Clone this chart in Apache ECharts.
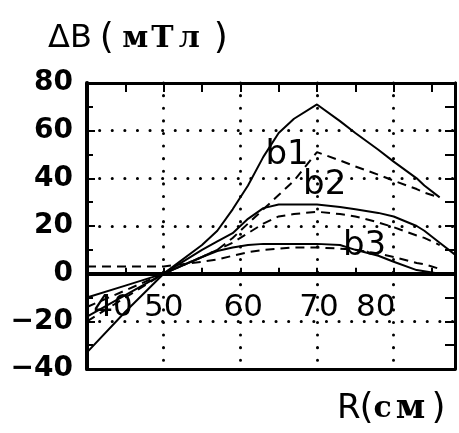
<!DOCTYPE html>
<html><head><meta charset="utf-8">
<script src="https://cdn.jsdelivr.net/npm/echarts@6/dist/echarts.min.js"></script>
<style>html,body{margin:0;padding:0;background:#fff}#c{width:459px;height:433px}</style>
</head><body><div id="c"></div>
<script>
// R (cm)
const R = [40, 45, 50, 55, 57, 59, 61, 63, 65, 67, 70, 73, 75, 78, 80, 83, 84, 86, 88];
// ΔB (mT)
const b1Solid = [-33, -16, 0, 12, 18, 27, 37, 49, 59, 65, 71, 64, 59, 52, 47, 40, 37, 32, null];
const b1Dash  = [-20, -10, 0, 7, 10, 15, 21, 27, 33, 39, 51, 47.5, 45, 41.5, 39, 35.5, 34, 32, null];
const b2Solid = [-18, -9, 0, 10, 13.5, 17, 23, 27.5, 29, 29, 29, 28, 27, 25.5, 24, 20, 18, 13, 8];
const b2Dash  = [-14, -7, 0, 7, 10, 13, 17, 21, 24, 25, 26, 25, 24, 21.5, 19.5, 16, 15, 12, null];
const b3Solid = [-10, -5, 0, 7, 9.5, 11, 12, 12.5, 12.5, 12.5, 12.5, 12, 10, 7.5, 5, 1.5, 1, 0, null];
const b3Dash  = [3, 3, 3, 5, 6, 7.5, 9, 10, 10.5, 11, 11, 10.5, 10, 8.5, 7, 4.5, 4, 2, null];
const xTickLabels = [40, 50, 60, 70, 80];
const curveNames = ['b1', 'b2', 'b3'];

const toPairs = vals => R.map((r, i) => [r, vals[i] == null ? '-' : vals[i]]);
const black = '#000';
const dotted = {color: black, width: 3, type: [0.1, 12.5], cap: 'round'};

function lineSeries(name, vals, dashed) {
  return {
    name, type: 'line', data: toPairs(vals), showSymbol: false, symbol: 'none',
    xAxisIndex: 0, yAxisIndex: 0, z: 5, animation: false,
    lineStyle: {color: black, width: 2, type: dashed ? [9, 6] : 'solid'}
  };
}

const xl = {fontFamily: 'DejaVu Sans', fontSize: 31, color: black, fontWeight: 'normal'};
const norm = {fontWeight: 'normal', color: black};
const option = {
  animation: false,
  backgroundColor: '#fff',
  title: [
    {left: 43, top: 16, text: '{a|ΔB}{p|(}{c|м}{c|Т}{c|л}{q|)}',
     textStyle: {fontWeight: 'normal', rich: {
       a: Object.assign({fontFamily: 'DejaVu Sans', fontSize: 32}, norm),
       p: Object.assign({fontFamily: 'DejaVu Sans', fontSize: 36, width: 30, align: 'center'}, norm),
       c: {fontFamily: 'DejaVu Serif', fontWeight: 'bold', fontSize: 30, color: black, width: 27, align: 'center'},
       q: Object.assign({fontFamily: 'DejaVu Sans', fontSize: 36, width: 36, align: 'center'}, norm)
     }}},
    {left: 332, top: 386, text: '{a|R}{p|(}{c|с}{m|м}{q|)}',
     textStyle: {fontWeight: 'normal', rich: {
       a: Object.assign({fontFamily: 'DejaVu Sans', fontSize: 34}, norm),
       p: Object.assign({fontFamily: 'DejaVu Sans', fontSize: 36, width: 12, align: 'center'}, norm),
       c: {fontFamily: 'DejaVu Serif', fontWeight: 'bold', fontSize: 30, color: black, width: 20, align: 'center'},
       m: {fontFamily: 'DejaVu Serif', fontWeight: 'bold', fontSize: 34, color: black, width: 36, align: 'center'},
       q: Object.assign({fontFamily: 'DejaVu Sans', fontSize: 36, width: 20, align: 'center'}, norm)
     }}}
  ],
  grid: {left: 87, right: 4, top: 83, bottom: 64, containLabel: false},
  xAxis: [
    {type: 'value', min: 40, max: 88, interval: 5, position: 'bottom',
     axisLine: {show: true, onZero: true, lineStyle: {color: black, width: 4}},
     axisTick: {show: true, inside: true, length: 6, lineStyle: {color: black, width: 2}},
     splitLine: {show: false}, axisLabel: {show: false}},
    {type: 'value', min: 40, max: 88, interval: 5, position: 'top',
     axisLine: {show: true, onZero: false, lineStyle: {color: black, width: 3}},
     axisTick: {show: true, inside: true, length: 9, lineStyle: {color: black, width: 2}},
     axisLabel: {show: false}, splitLine: {show: false}},
    {type: 'value', min: 40, max: 88, interval: 10, position: 'bottom',
     axisLine: {show: true, onZero: false, lineStyle: {color: black, width: 3}},
     axisTick: {show: false},
     axisLabel: {show: true, inside: true, margin: 46, interval: 0, showMinLabel: true, showMaxLabel: true,
       formatter: v => xTickLabels.includes(v) ? '{l' + v + '|' + v + '}' : '',
       rich: {
         l40: Object.assign({padding: [0, 0, 0, 52]}, xl),
         l50: Object.assign({}, xl),
         l60: Object.assign({padding: [0, 0, 0, 6]}, xl),
         l70: Object.assign({padding: [0, 0, 0, 4]}, xl),
         l80: Object.assign({padding: [0, 36, 0, 0]}, xl)
       }},
     splitLine: {show: true, lineStyle: dotted}}
  ],
  yAxis: [
    {type: 'value', min: -40, max: 80, interval: 20, position: 'left',
     axisLine: {show: true, onZero: false, lineStyle: {color: black, width: 4}},
     axisTick: {show: true, inside: true, length: 8, lineStyle: {color: black, width: 2}},
     minorTick: {show: true, splitNumber: 2, length: 6, lineStyle: {color: black, width: 2}},
     axisLabel: {color: black, fontFamily: 'DejaVu Sans', fontWeight: 'bold', fontSize: 28, margin: 14,
       formatter: v => String(v).replace('-', '\u2212')},
     splitLine: {show: true, lineStyle: dotted}},
    {type: 'value', min: -40, max: 80, interval: 20, position: 'right',
     axisLine: {show: true, onZero: false, lineStyle: {color: black, width: 3}},
     axisTick: {show: true, inside: true, length: 10, lineStyle: {color: black, width: 2}},
     minorTick: {show: true, splitNumber: 2, length: 10, lineStyle: {color: black, width: 2}},
     axisLabel: {show: false}, splitLine: {show: false}}
  ],
  series: [
    lineSeries('b1', b1Solid, false),
    lineSeries('b1 exp', b1Dash, true),
    lineSeries('b2', b2Solid, false),
    lineSeries('b2 exp', b2Dash, true),
    lineSeries('b3', b3Solid, false),
    lineSeries('b3 exp', b3Dash, true),
    {type: 'scatter', symbolSize: 1, xAxisIndex: 0, yAxisIndex: 0, z: 6, silent: true,
     itemStyle: {color: 'rgba(0,0,0,0)', opacity: 1},
     data: [[66.1, 49.8, curveNames[0]], [71.0, 37.2, curveNames[1]], [76.2, 11.6, curveNames[2]]],
     label: {show: true, position: 'inside', formatter: p => p.value[2], opacity: 1,
       fontFamily: 'DejaVu Sans', fontSize: 34, color: '#000', textBorderWidth: 0}}
  ]
};
echarts.init(document.getElementById('c'), null, {renderer: 'canvas'}).setOption(option);
</script>
</body></html>
